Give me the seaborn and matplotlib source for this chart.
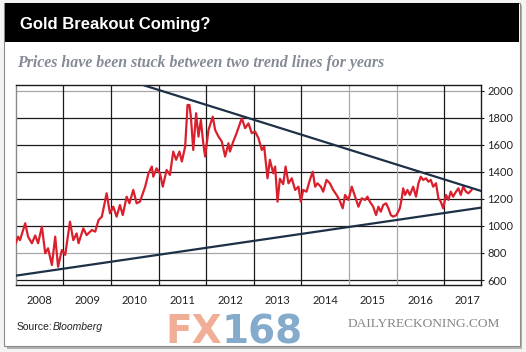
import matplotlib
matplotlib.use('Agg')
import matplotlib.pyplot as plt
from matplotlib.patches import Rectangle
import seaborn as sns
import pandas as pd

# gold price (decimal year, USD/oz)
years = [2008.00, 2008.05, 2008.09, 2008.20, 2008.26, 2008.34, 2008.41, 2008.47, 2008.55, 2008.62,
         2008.68, 2008.76, 2008.83, 2008.89, 2008.97, 2009.04, 2009.14, 2009.21, 2009.28, 2009.32,
         2009.42, 2009.49, 2009.60, 2009.67, 2009.74, 2009.81, 2009.91, 2009.98, 2010.05, 2010.12,
         2010.19, 2010.25, 2010.33, 2010.39, 2010.47, 2010.54, 2010.61, 2010.72, 2010.79, 2010.86,
         2010.89, 2010.96, 2011.03, 2011.09, 2011.17, 2011.24, 2011.31, 2011.37, 2011.44, 2011.49,
         2011.56, 2011.61, 2011.65, 2011.68, 2011.73, 2011.79, 2011.84, 2011.89, 2011.94, 2011.98,
         2012.05, 2012.14, 2012.19, 2012.26, 2012.33, 2012.40, 2012.47, 2012.50, 2012.57, 2012.64,
         2012.75, 2012.82, 2012.89, 2012.96, 2013.03, 2013.10, 2013.17, 2013.22, 2013.29, 2013.34,
         2013.41, 2013.45, 2013.50, 2013.55, 2013.62, 2013.67, 2013.73, 2013.80, 2013.87, 2013.94,
         2013.99, 2014.04, 2014.11, 2014.18, 2014.24, 2014.29, 2014.34, 2014.41, 2014.46, 2014.53,
         2014.60, 2014.67, 2014.74, 2014.80, 2014.87, 2014.92, 2014.99, 2015.06, 2015.13, 2015.20,
         2015.27, 2015.34, 2015.39, 2015.44, 2015.51, 2015.57, 2015.62, 2015.67, 2015.72, 2015.78,
         2015.83, 2015.88, 2015.93, 2016.00, 2016.07, 2016.11, 2016.14, 2016.18, 2016.23, 2016.28,
         2016.35, 2016.41, 2016.46, 2016.51, 2016.56, 2016.62, 2016.67, 2016.72, 2016.77, 2016.83,
         2016.88, 2016.93, 2016.98, 2017.04, 2017.09, 2017.14, 2017.19, 2017.25, 2017.30, 2017.35,
         2017.40, 2017.46, 2017.51, 2017.58]
prices = [872, 921, 895, 1020, 921, 872, 930, 872, 995, 798,
          835, 711, 921, 698, 822, 786, 1032, 895, 945, 872,
          982, 933, 970, 958, 1044, 1069, 1242, 1094, 1143, 1069,
          1155, 1081, 1217, 1168, 1267, 1168, 1180, 1291, 1390, 1440,
          1365, 1427, 1390, 1291, 1415, 1378, 1551, 1490, 1551, 1477,
          1588, 1896, 1896, 1810, 1563, 1835, 1662, 1785, 1613, 1514,
          1711, 1810, 1711, 1662, 1625, 1514, 1613, 1551, 1625, 1687,
          1798, 1724, 1760, 1687, 1699, 1650, 1563, 1588, 1353, 1490,
          1390, 1440, 1180, 1350, 1310, 1440, 1316, 1353, 1267, 1291,
          1180, 1267, 1254, 1341, 1402, 1291, 1316, 1291, 1254, 1341,
          1316, 1267, 1230, 1193, 1131, 1230, 1193, 1291, 1217, 1143,
          1205, 1193, 1217, 1180, 1143, 1081, 1143, 1106, 1155, 1168,
          1131, 1081, 1069, 1081, 1131, 1205, 1279, 1230, 1267, 1230,
          1291, 1217, 1316, 1365, 1341, 1353, 1328, 1341, 1291, 1316,
          1205, 1180, 1131, 1230, 1193, 1254, 1217, 1254, 1279, 1230,
          1291, 1254, 1242, 1267]

# trend lines (end points)
upper_x = [2010.50, 2017.78]
upper_y = [2063, 1259]
lower_x = [2008.00, 2017.78]
lower_y = [632, 1136]

year_labels = [str(y) for y in range(2008, 2018)]
price_ticks = [600, 800, 1000, 1200, 1400, 1600, 1800, 2000]

sns.set_style('white')
plt.rcParams['font.family'] = ['Lato', 'DejaVu Sans']

fig = plt.figure(figsize=(5.26, 3.52), dpi=100)
fig.patch.set_facecolor('#f4f4f4')

# card with shadow and black title bar
fig.patches.append(Rectangle((7 / 526, 1 - 349 / 352), 515 / 526, 344 / 352,
                             transform=fig.transFigure, facecolor='#b0b0b0', edgecolor='none', zorder=0))
fig.patches.append(Rectangle((4 / 526, 1 - 346 / 352), 516 / 526, 343 / 352,
                             transform=fig.transFigure, facecolor='white', edgecolor='#8c8c8c', lw=0.8, zorder=1))
fig.patches.append(Rectangle((5 / 526, 1 - 42 / 352), 514 / 526, 39 / 352,
                             transform=fig.transFigure, facecolor='black', edgecolor='none', zorder=2))

fig.text(20 / 526, 1 - 24 / 352, 'Gold Breakout Coming?', color='white', fontsize=12,
         fontweight='bold', family='Liberation Sans', va='center', ha='left', zorder=3)
fig.text(17 / 526, 1 - 63 / 352, 'Prices have been stuck between two trend lines for years',
         color='#858b95', fontsize=11.4, fontweight='bold', fontstyle='italic',
         family='Liberation Serif', va='center', ha='left', zorder=3)

ax = fig.add_axes([15.7 / 526, 1 - 285 / 352, 465.3 / 526, 200 / 352])
ax.set_zorder(3)

# grid: a few lines print lighter in the original
for y in price_ticks:
    c = '#a8a8a8' if y in (800, 2000) else '#1a1a1a'
    ax.axhline(y, color=c, lw=0.9, zorder=1)
for x in range(2009, 2018):
    c = '#a8a8a8' if x in (2015, 2016) else '#1a1a1a'
    ax.axvline(x, color=c, lw=0.9, zorder=1)

gold = pd.DataFrame({'year': years, 'price': prices})
sns.lineplot(data=gold, x='year', y='price', color='#d9202c', lw=1.6, ax=ax, zorder=3)
sns.lineplot(x=upper_x, y=upper_y, color='#1d3047', lw=1.6, ax=ax, zorder=4)
sns.lineplot(x=lower_x, y=lower_y, color='#1d3047', lw=1.6, ax=ax, zorder=4)

ax.set_xlim(2008.0, 2017.775)
ax.set_ylim(563, 2044)
ax.set_xlabel('')
ax.set_ylabel('')
ax.set_xticks([y + 0.5 for y in range(2008, 2018)])
ax.set_xticklabels(year_labels)
ax.set_yticks(price_ticks)
ax.yaxis.tick_right()
ax.tick_params(axis='x', length=0, pad=7, labelsize=8, labelcolor='#222222')
ax.tick_params(axis='y', length=2.5, width=0.8, pad=2, labelsize=8, labelcolor='#222222', color='#1a1a1a')
for side in ['top', 'right', 'bottom']:
    ax.spines[side].set_color('#1a1a1a')
    ax.spines[side].set_linewidth(1.0)
ax.spines['left'].set_color('#8a8a8a')
ax.spines['left'].set_linewidth(1.0)

# footer
fig.text(17 / 526, 1 - 327 / 352, 'Source:', fontsize=7.5, family='Liberation Sans',
         va='center', ha='left', color='#222222', zorder=3)
fig.text(53 / 526, 1 - 327 / 352, 'Bloomberg', fontsize=7.5, family='Liberation Sans',
         fontstyle='italic', va='center', ha='left', color='#222222', zorder=3)
fig.text(165 / 526, 1 - 332 / 352, 'FX', fontsize=28, fontweight='heavy', family='DejaVu Sans',
         color='#efa085', alpha=0.85, va='center', ha='left', zorder=3)
fig.text(222 / 526, 1 - 332 / 352, '168', fontsize=28, fontweight='heavy', family='DejaVu Sans',
         color='#6f9cc2', alpha=0.85, va='center', ha='left', zorder=3)
fig.text(348 / 526, 1 - 324 / 352, 'DAILYRECKONING.COM', fontsize=9.6, family='Liberation Serif',
         color='#858585', va='center', ha='left', zorder=3)

fig.savefig('out.png', dpi=100)
